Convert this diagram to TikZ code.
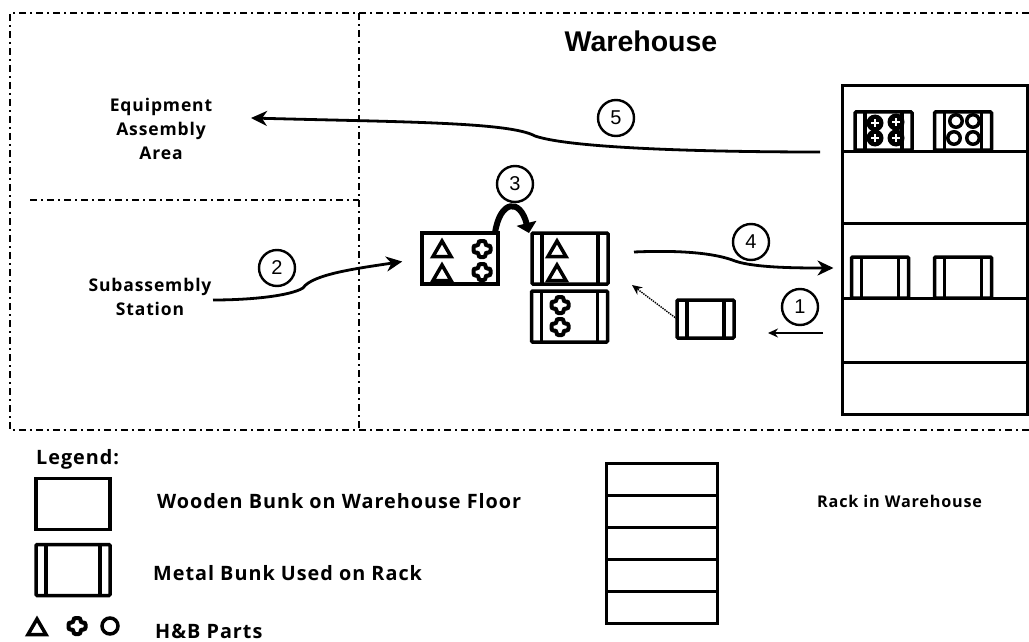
\documentclass[tikz,border=0pt]{standalone}
\usepackage{fontspec}
\setmainfont{Open Sans}
\newfontfamily\headfont{Liberation Sans}
\newfontfamily\widefont[LetterSpace=5]{Open Sans}
\usetikzlibrary{arrows.meta,positioning,calc}

\tikzset{
  tripart/.pic={\draw[line width=3.5pt,line join=miter] (-9,7.5) -- (0,-8) -- (9,7.5) -- cycle;},
  crosspart/.pic={\draw[line width=4pt,rounded corners=2pt] (-3.5,-8) -- (3.5,-8) -- (3.5,-3.5) -- (8.5,-3.5) -- (8.5,3.5)
     -- (3.5,3.5) -- (3.5,8) -- (-3.5,8) -- (-3.5,3.5) -- (-8.5,3.5) -- (-8.5,-3.5) -- (-3.5,-3.5) -- cycle;},
  ringpart/.pic={\draw[line width=3.5pt] (0,0) circle (8);},
  densepart/.pic={\fill (0,0) circle (8.5);
     \draw[white,line width=2.5pt] (-4,0) -- (4,0) (0,-4) -- (0,4);}
}

\begin{document}
\begin{tikzpicture}[x=1pt,y=-1pt,
  zone/.style={line width=2pt,dash pattern=on 7pt off 4pt on 2pt off 4pt},
  wood/.style={rectangle,draw,line width=3.5pt,inner sep=0pt,outer sep=0pt,minimum width=#1,minimum height=51pt},
  wood/.default=76pt,
  metal/.style={wood=#1,rounded corners=1pt,path picture={
      \draw[line width=3.5pt] ([xshift=10pt]path picture bounding box.south west) -- ([xshift=10pt]path picture bounding box.north west);
      \draw[line width=3.5pt] ([xshift=-10pt]path picture bounding box.south east) -- ([xshift=-10pt]path picture bounding box.north east);}},
  metal/.default=76pt,
  shelfbox/.style={rectangle,draw,line width=3pt,inner sep=0pt,outer sep=0pt},
  numc/.style={circle,draw,line width=2.4pt,inner sep=0pt,minimum size=36pt,font=\headfont\fontsize{20}{20}\selectfont},
  lbl/.style={font=\widefont\bfseries\fontsize{17.5}{24}\selectfont,align=center,inner sep=0pt},
  leg/.style={font=\widefont\bfseries\fontsize{19.8}{24}\selectfont,anchor=west,inner sep=0pt},
  flow/.style={-{Stealth[length=16pt,width=15pt,inset=5pt]},line width=2.8pt},
  hop/.style={-{Triangle[length=10pt,width=20pt]},line width=6pt},
  hint/.style={-{Stealth[length=10pt,width=9pt]},line width=1.4pt,densely dotted}
]
\useasboundingbox (0,0) rectangle (1029,642);

% zones
\coordinate (tl) at (10,13);
\coordinate (tr) at (1029,13);
\coordinate (bl) at (10,430);
\coordinate (br) at (1029,430);
\coordinate (ml) at (30,200);
\coordinate (mr) at (359,200);
\coordinate (vt) at (359,13);
\coordinate (vb) at (359,430);
\draw[zone] (tr) -- (tl) -- (bl) -- (br);
\draw[zone] (vt) -- (vb);
\draw[zone] (ml) -- (mr);

% labels
\node[font=\headfont\bfseries\fontsize{28.5}{28.5}\selectfont] (house) at (641,41) {Warehouse};
\node[lbl] (equip) at (161,129) {Equipment\\Assembly\\Area};
\node[lbl] (subst) at (150,297) {Subassembly\\Station};

% rack
\node[shelfbox,minimum width=185pt,minimum height=329pt] (rack) at (935,250) {};
\coordinate (s1) at (rack.west |- 0,151);
\coordinate (s2) at (rack.west |- 0,223);
\coordinate (s3) at (rack.west |- 0,298);
\coordinate (s4) at (rack.west |- 0,362);
\foreach \s in {s1,s2,s3,s4}
  \draw[line width=3pt] (\s) -- (\s -| rack.east);

\node[metal=57pt,minimum height=38pt] (topa) at (883.5,131) {};
\node[metal=57pt,minimum height=38pt] (topb) at (963,131) {};
\node[metal=57pt,minimum height=41pt] (mida) at (880,277.5) {};
\node[metal=57pt,minimum height=41pt] (midb) at (963,277.5) {};
\foreach \x/\y in {875/123,896/122,875/138,896/138}
  \pic at (\x,\y) {densepart};
\foreach \x/\y in {956/121,973/121,954/138,973/138}
  \pic[scale=.78] at (\x,\y) {ringpart};

% bunks on the floor
\node[wood] (pile) at (460,258.5) {};
\node[metal] (tria) at (570,258.5) {};
\node[metal] (crss) at (569.5,316.5) {};
\node[metal=57pt,minimum height=38pt] (empt) at (705.5,319) {};

\pic at (442,249) {tripart};
\pic at (442,273) {tripart};
\pic at (482,249) {crosspart};
\pic at (482,272) {crosspart};
\pic at (557,249) {tripart};
\pic at (557,273) {tripart};
\pic at (560,305) {crosspart};
\pic at (560,327) {crosspart};

% numbers
\node[numc] (n1) at (800,307) {1};
\node[numc] (n2) at (277,268) {2};
\node[numc] (n3) at (515,184) {3};
\node[numc] (n4) at (751,242) {4};
\node[numc] (n5) at (616,118) {5};

% flows
\coordinate (a1) at (823,333);
\coordinate (a2) at (768,333);
\coordinate (a3) at (632,285);
\coordinate (a4) at (634,252);
\coordinate (a5) at (820,152);
\coordinate (a6) at (251,118);
\coordinate (a7) at (213,300);
\draw[-{Stealth[length=10pt,width=9pt]},line width=2pt] (a1) -- (a2);
\draw[hint] (empt.west) -- (a3);
\draw[flow,shorten >=20pt] (a7) .. controls (250,300) and (290,296) .. (303,288)
   .. controls (312,274) and (360,268) .. (pile.west);
\draw[hop] ([xshift=-3pt]pile.north east) .. controls (500,200) and (520,198) .. ([xshift=-3pt]tria.north west);
\draw[flow,shorten >=9pt] (a4) .. controls (680,250) and (715,253) .. (735,261)
   .. controls (755,268) and (800,268) .. (rack.west |- 0,268);
\draw[flow] (a5) .. controls (700,152) and (570,148) .. (535,136)
   .. controls (510,122) and (400,122) .. (a6);

% legend
\node[leg] (lega) at (36,459) {Legend:};
\node[wood=74pt] (lwood) at (73,504) {};
\node[metal=74pt] (lmetal) at (73,570) {};
\pic at (37,627) {tripart};
\pic at (77,626) {crosspart};
\pic at (110,626) {ringpart};
\node[leg] (lb1) at (157,501) {Wooden Bunk on Warehouse Floor};
\node[leg] (lb2) at (153,573) {Metal Bunk Used on Rack};
\node[leg] (lb3) at (155,631) {H\&B Parts};
\node[leg,font=\widefont\bfseries\fontsize{16.2}{20}\selectfont] (lb4) at (817,501) {Rack in Warehouse};
\node[shelfbox,minimum width=111pt,minimum height=160pt] (lrack) at (661.5,543) {};
\foreach \y in {495,527,559,591}
  \draw[line width=3pt] (lrack.west |- 0,\y) -- (lrack.east |- 0,\y);
\end{tikzpicture}
\end{document}
